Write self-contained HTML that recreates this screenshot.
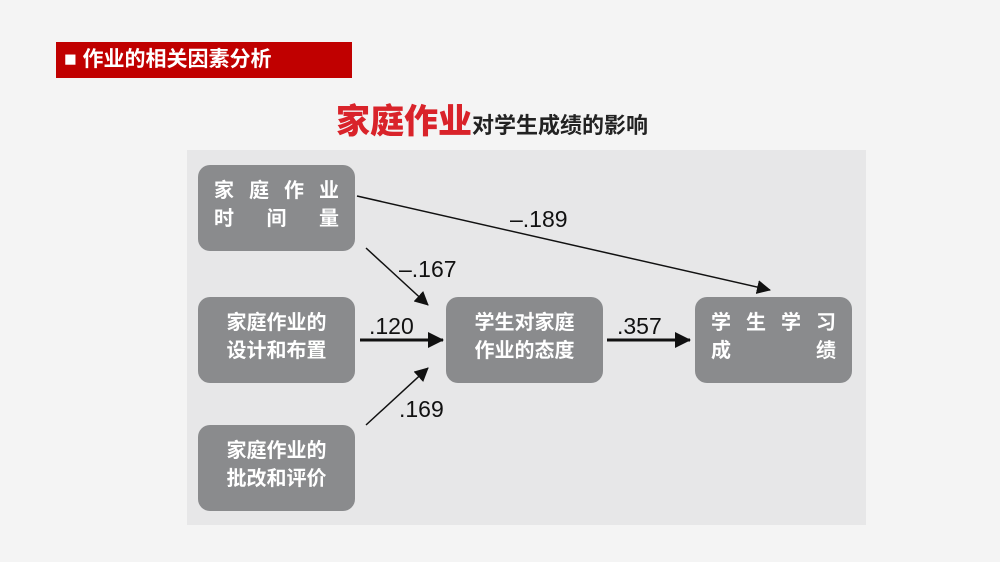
<!DOCTYPE html>
<html><head><meta charset="utf-8"><style>
body{margin:0;width:1000px;height:562px;background:#f4f4f4;position:relative;overflow:hidden;font-family:"Liberation Sans","Noto Sans CJK SC",sans-serif}
.hdr{position:absolute;left:56px;top:42px;width:296px;height:36px;background:#c00000;color:#fff;font-size:21px;line-height:36px;padding-left:8px;box-sizing:border-box;font-weight:bold}
.ttl{position:absolute;left:336px;top:94px;font-size:22px;color:#222;white-space:nowrap;font-weight:bold}
.ttl b{color:#d9232a;font-size:34px}
.panel{position:absolute;left:187px;top:150px;width:679px;height:375px;background:#e7e7e8}
.box{position:absolute;width:157px;height:86px;background:#8a8b8d;border-radius:12px;color:#fff;font-size:20px;line-height:28px;box-sizing:border-box;padding:12px 16px;text-align:justify;font-weight:bold}
.j{display:flex;justify-content:space-between}
svg{position:absolute;left:0;top:0}
.n{font-family:"Liberation Sans",sans-serif;font-size:23px;fill:#111}
</style></head><body>
<div class="hdr">■ 作业的相关因素分析</div>
<div class="ttl"><b>家庭作业</b>对学生成绩的影响</div>
<div class="panel"></div>
<div class="box" style="left:198px;top:165px"><div class="j"><span>家</span><span>庭</span><span>作</span><span>业</span></div><div class="j"><span>时</span><span>间</span><span>量</span></div></div>
<div class="box" style="left:198px;top:297px;text-align:center">家庭作业的<br>设计和布置</div>
<div class="box" style="left:198px;top:425px;text-align:center">家庭作业的<br>批改和评价</div>
<div class="box" style="left:446px;top:297px;text-align:center">学生对家庭<br>作业的态度</div>
<div class="box" style="left:695px;top:297px"><div class="j"><span>学</span><span>生</span><span>学</span><span>习</span></div><div class="j"><span>成</span><span>绩</span></div></div>
<svg width="1000" height="562">
<defs><marker id="a" markerWidth="16" markerHeight="16" refX="15" refY="8" orient="auto" markerUnits="userSpaceOnUse"><path d="M0,0 L16,8 L0,16 z" fill="#111"/></marker>
<marker id="b" markerWidth="14" markerHeight="14" refX="13" refY="7" orient="auto" markerUnits="userSpaceOnUse"><path d="M0,0 L14,7 L0,14 z" fill="#111"/></marker></defs>
<line x1="357" y1="196" x2="770" y2="290" stroke="#111" stroke-width="1.5" marker-end="url(#b)"/>
<line x1="366" y1="248" x2="428" y2="305" stroke="#111" stroke-width="1.5" marker-end="url(#b)"/>
<line x1="360" y1="340" x2="443" y2="340" stroke="#111" stroke-width="3" marker-end="url(#a)"/>
<line x1="366" y1="425" x2="428" y2="368" stroke="#111" stroke-width="1.5" marker-end="url(#b)"/>
<line x1="607" y1="340" x2="690" y2="340" stroke="#111" stroke-width="3" marker-end="url(#a)"/>
<text class="n" x="510" y="227">–.189</text>
<text class="n" x="399" y="277">–.167</text>
<text class="n" x="369" y="334">.120</text>
<text class="n" x="617" y="334">.357</text>
<text class="n" x="399" y="417">.169</text>
</svg>
</body></html>
